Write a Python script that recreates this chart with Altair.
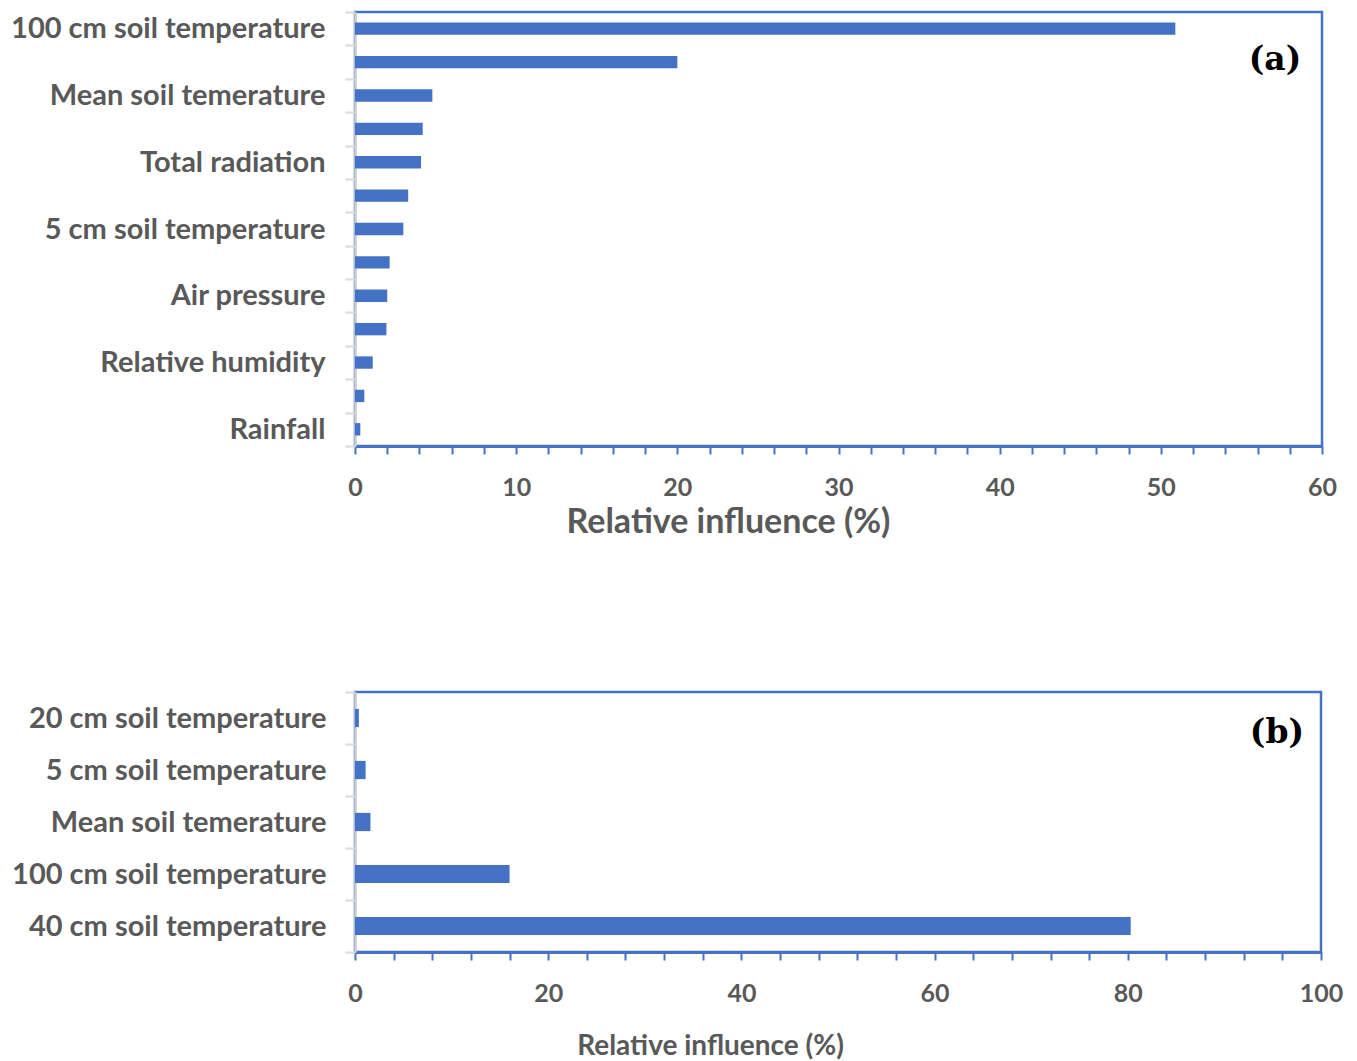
import json
import altair as alt
import pandas as pd

# ---- Panel (a) data (top to bottom); blank labels are categories Excel skipped ----
a_labels = ["100 cm soil temperature", "", "Mean soil temerature", "", "Total radiation", "",
            "5 cm soil temperature", "", "Air pressure", "", "Relative humidity", "", "Rainfall"]
a_values = [50.9, 20.0, 4.8, 4.2, 4.1, 3.3, 3.0, 2.15, 2.0, 1.95, 1.1, 0.58, 0.33]

# ---- Panel (b) data (top to bottom) ----
b_labels = ["20 cm soil temperature", "5 cm soil temperature", "Mean soil temerature",
            "100 cm soil temperature", "40 cm soil temperature"]
b_values = [0.4, 1.1, 1.6, 16.0, 80.3]

a_ticks = list(range(0, 61, 2))
b_ticks = list(range(0, 101, 4))

BLUE = "#4472C4"
GREY = "#595959"
FONT = "Lato"

df_a = pd.DataFrame({"rank": list(range(len(a_values))), "value": a_values})
df_b = pd.DataFrame({"label": b_labels, "value": b_values})

label_expr_a = json.dumps(a_labels) + "[datum.value]"


def y_axis(extent, pad):
    return dict(
        title=None, domainColor="#D0D0D0", domainWidth=2.5, tickColor="#D9D9D9", tickWidth=2,
        tickSize=10, tickBand="extent", labelFont=FONT, labelFontSize=29, labelFontWeight="bold",
        labelColor=GREY, labelPadding=pad, labelLimit=400, minExtent=extent, maxExtent=extent,
        grid=False,
    )


def x_axis(values, every, title_x, title_y, title_size):
    return alt.Axis(
        values=values, labelExpr=f"datum.value % {every} === 0 ? datum.label : ''",
        domainColor=BLUE, domainWidth=3, tickColor=BLUE, tickWidth=2, tickSize=8,
        labelFont=FONT, labelFontSize=25, labelFontWeight="bold", labelColor=GREY,
        labelPadding=21, labelFlush=False, labelOverlap=False, grid=False,
        title="Relative influence (%)", titleFont=FONT, titleFontSize=title_size,
        titleFontWeight="bold", titleColor=GREY, titleX=title_x, titleY=title_y,
        titleBaseline="middle",
    )


bars_a = alt.Chart(df_a).mark_bar(color=BLUE, height={"band": 0.37}).encode(
    x=alt.X("value:Q", scale=alt.Scale(domain=[0, 60], nice=False),
            axis=x_axis(a_ticks, 10, 373, 76, 34)),
    y=alt.Y("rank:O", scale=alt.Scale(paddingInner=0, paddingOuter=0),
            axis=alt.Axis(labelExpr=label_expr_a, **y_axis(355, 20))),
)
tag_a = alt.Chart(pd.DataFrame({"t": ["(a)"]})).mark_text(
    font="DejaVu Serif", fontWeight="bold", fontSize=33, color="black"
).encode(text="t:N", x=alt.value(920), y=alt.value(48))

panel_a = alt.layer(bars_a, tag_a).properties(width=967, height=434)

bars_b = alt.Chart(df_b).mark_bar(color=BLUE, height={"band": 0.35}).encode(
    x=alt.X("value:Q", scale=alt.Scale(domain=[0, 100], nice=False),
            axis=x_axis(b_ticks, 20, 355, 94, 28)),
    y=alt.Y("label:N", sort=b_labels, scale=alt.Scale(paddingInner=0, paddingOuter=0),
            axis=alt.Axis(**y_axis(358, 19))),
)
tag_b = alt.Chart(pd.DataFrame({"t": ["(b)"]})).mark_text(
    font="DejaVu Serif", fontWeight="bold", fontSize=33, color="black"
).encode(text="t:N", x=alt.value(922), y=alt.value(41))

panel_b = alt.layer(bars_b, tag_b).properties(width=966, height=260)

chart = alt.vconcat(panel_a, panel_b, spacing=135).configure_view(
    stroke=BLUE, strokeWidth=2.5
).properties(
    padding={"left": -5, "top": -4, "right": 0, "bottom": 0},
    background="white",
)

chart.save("out.html", embed_options={"renderer": "svg", "actions": False})
